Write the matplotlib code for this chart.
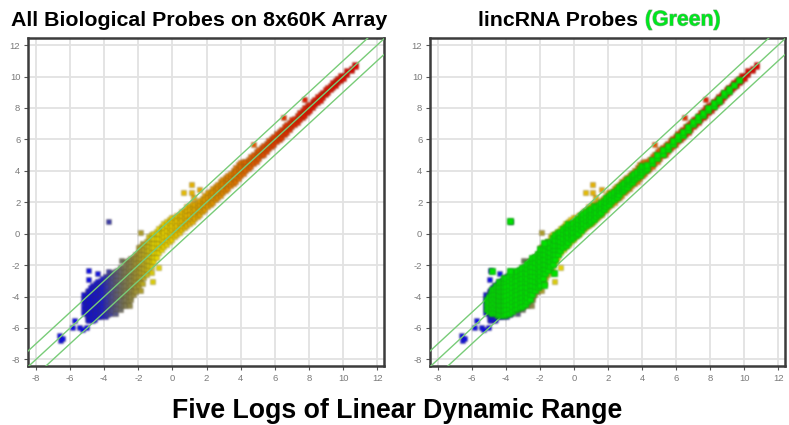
import numpy as np
import matplotlib
matplotlib.use("Agg")
import matplotlib.pyplot as plt
from matplotlib.colors import LinearSegmentedColormap
import matplotlib.patheffects as pe

plt.rcParams['font.family'] = ['Liberation Sans', 'DejaVu Sans']
plt.rcParams['axes.unicode_minus'] = False

# Titles
left_title = "All Biological Probes on 8x60K Array"
right_title = "lincRNA Probes "
right_title_green = "(Green)"
bottom_title = "Five Logs of Linear Dynamic Range"
ticks = [-8, -6, -4, -2, 0, 2, 4, 6, 8, 10, 12]

# All probes: x position with the y values read at that x
probe_x = [-5.2, -5.1, -5.0, -4.9, -4.8, -4.7, -4.6, -4.5, -4.4, -4.3, -4.2, -4.1, -3.95, -3.8, -3.65, -3.5,
           -3.35, -3.2, -3.05, -2.9, -2.75, -2.6, -2.45, -2.3, -2.15, -2.0, -1.85, -1.7, -1.55, -1.4,
           -1.25, -1.1, -0.95, -0.8, -0.65, -0.5, -0.35, -0.2, -0.05, 0.1, 0.25, 0.4, 0.55, 0.7, 0.85, 1.0,
           1.15, 1.3, 1.45, 1.6, 1.75, 1.9, 2.05, 2.2, 2.35, 2.5, 2.65, 2.8, 2.95, 3.1, 3.25, 3.4, 3.55, 3.7,
           3.85, 4.0, 4.15, 4.3, 4.45, 4.6, 4.75, 4.9, 5.05, 5.2, 5.35, 5.5, 5.65, 5.8, 5.95, 6.1, 6.25, 6.4,
           6.55, 6.7, 6.85, 7.0, 7.15, 7.3, 7.45, 7.6, 7.75, 7.9, 8.05, 8.2, 8.35, 8.5, 8.65, 8.8, 8.95, 9.1,
           9.25, 9.4, 9.55, 9.7, 9.85, 10.0, 10.2, 10.5, 10.7]
probe_y = [
    [-5.0, -4.7, -4.4, -4.1, -3.9],
    [-5.1, -4.8, -4.5, -4.2, -3.95],
    [-5.2, -4.9, -4.6, -4.3, -4.0, -3.7],
    [-5.35, -5.0, -4.7, -4.4, -4.1, -3.8, -3.6],
    [-5.45, -5.2, -4.9, -4.6, -4.3, -4.0, -3.7, -3.45],
    [-5.3, -5.05, -4.75, -4.45, -4.15, -3.85, -3.55, -3.3],
    [-5.45, -5.15, -4.85, -4.55, -4.25, -3.95, -3.65, -3.35],
    [-5.3, -5.0, -4.7, -4.4, -4.1, -3.8, -3.5, -3.2],
    [-5.3, -5.1, -4.8, -4.5, -4.2, -3.9, -3.6, -3.3, -3.05],
    [-5.25, -4.95, -4.65, -4.35, -4.05, -3.75, -3.45, -3.15],
    [-5.3, -5.05, -4.75, -4.45, -4.15, -3.85, -3.55, -3.25, -2.95],
    [-5.2, -4.9, -4.6, -4.3, -4.0, -3.7, -3.4, -3.1, -2.85],
    [-5.3, -5.0, -4.7, -4.4, -4.1, -3.8, -3.5, -3.2, -2.9, -2.7],
    [-5.15, -4.85, -4.55, -4.25, -3.95, -3.65, -3.35, -3.05, -2.75],
    [-5.05, -4.75, -4.45, -4.15, -3.85, -3.55, -3.25, -2.95, -2.65],
    [-4.9, -4.6, -4.3, -4.0, -3.7, -3.4, -3.1, -2.8, -2.5],
    [-5.05, -4.75, -4.45, -4.15, -3.85, -3.55, -3.25, -2.95, -2.65, -2.4],
    [-4.75, -4.45, -4.15, -3.85, -3.55, -3.25, -2.95, -2.65, -2.35],
    [-4.8, -4.5, -4.2, -3.9, -3.6, -3.3, -3.0, -2.7, -2.4, -2.15],
    [-4.55, -4.25, -3.95, -3.65, -3.35, -3.05, -2.75, -2.45, -2.15],
    [-4.5, -4.2, -3.9, -3.6, -3.3, -3.0, -2.7, -2.4, -2.1, -1.8],
    [-4.3, -4.0, -3.7, -3.4, -3.1, -2.8, -2.5, -2.2, -1.9, -1.7],
    [-4.2, -3.9, -3.6, -3.3, -3.0, -2.7, -2.4, -2.1, -1.8, -1.55],
    [-3.9, -3.6, -3.3, -3.0, -2.7, -2.4, -2.1, -1.8, -1.5],
    [-3.7, -3.4, -3.1, -2.8, -2.5, -2.2, -1.9, -1.6, -1.3],
    [-3.3, -3.0, -2.7, -2.4, -2.1, -1.8, -1.5, -1.2, -0.9],
    [-3.1, -2.8, -2.5, -2.2, -1.9, -1.6, -1.3, -1.0, -0.8],
    [-2.8, -2.5, -2.2, -1.9, -1.6, -1.3, -1.0, -0.7],
    [-2.6, -2.3, -2.0, -1.7, -1.4, -1.1, -0.8, -0.5],
    [-2.3, -2.0, -1.7, -1.4, -1.1, -0.8, -0.5, -0.2],
    [-2.1, -1.8, -1.5, -1.2, -0.9, -0.6, -0.3, -0.05],
    [-1.8, -1.5, -1.2, -0.9, -0.6, -0.3, 0.0],
    [-1.5, -1.2, -0.9, -0.6, -0.3, 0.0, 0.15],
    [-1.2, -0.9, -0.6, -0.3, 0.0, 0.3],
    [-1.0, -0.7, -0.4, -0.1, 0.2, 0.45],
    [-0.8, -0.5, -0.2, 0.1, 0.4, 0.65],
    [-0.7, -0.4, -0.1, 0.2, 0.5, 0.75],
    [-0.5, -0.2, 0.1, 0.4, 0.7, 0.9],
    [-0.35, -0.05, 0.25, 0.55, 0.85, 1.05],
    [-0.2, 0.1, 0.4, 0.7, 1.0],
    [-0.05, 0.25, 0.55, 0.85, 1.15],
    [0.1, 0.4, 0.7, 1.0, 1.25],
    [0.25, 0.55, 0.85, 1.15, 1.4],
    [0.4, 0.7, 1.0, 1.3, 1.5],
    [0.55, 0.85, 1.15, 1.45, 1.7],
    [0.65, 0.95, 1.25, 1.55, 1.8],
    [0.8, 1.1, 1.4, 1.7, 1.95],
    [0.95, 1.25, 1.55, 1.85],
    [1.1, 1.4, 1.7, 2.0],
    [1.25, 1.55, 1.85, 2.1],
    [1.4, 1.7, 2.0, 2.25],
    [1.55, 1.85, 2.15, 2.45],
    [1.7, 2.0, 2.3, 2.6],
    [1.85, 2.15, 2.45, 2.7],
    [2.0, 2.3, 2.6, 2.85],
    [2.15, 2.45, 2.75, 3.0],
    [2.3, 2.6, 2.9, 3.15],
    [2.45, 2.75, 3.05, 3.3],
    [2.6, 2.9, 3.2, 3.45],
    [2.75, 3.05, 3.35, 3.6],
    [2.9, 3.2, 3.5, 3.7],
    [3.05, 3.35, 3.65, 3.85],
    [3.2, 3.5, 3.8, 4.05],
    [3.35, 3.65, 3.95, 4.2],
    [3.5, 3.8, 4.1, 4.4],
    [3.7, 4.0, 4.3, 4.55],
    [3.85, 4.15, 4.45, 4.6],
    [4.0, 4.3, 4.6],
    [4.15, 4.45, 4.75],
    [4.3, 4.6, 4.9],
    [4.45, 4.75, 5.05],
    [4.6, 4.9, 5.2],
    [4.8, 5.05, 5.35],
    [4.95, 5.2, 5.5],
    [5.05, 5.35, 5.6],
    [5.2, 5.5, 5.75],
    [5.4, 5.65, 5.9],
    [5.55, 5.8, 6.05],
    [5.7, 5.95, 6.2],
    [5.85, 6.1, 6.35],
    [6.0, 6.25, 6.5],
    [6.15, 6.4, 6.65],
    [6.3, 6.55, 6.8],
    [6.45, 6.7, 6.95],
    [6.65, 6.85, 7.1],
    [6.8, 7.0, 7.25],
    [6.95, 7.15, 7.35],
    [7.1, 7.3, 7.5],
    [7.25, 7.45, 7.7],
    [7.4, 7.6, 7.85],
    [7.55, 7.75, 8.0],
    [7.7, 7.95, 8.15],
    [7.85, 8.05, 8.25],
    [8.0, 8.2, 8.4],
    [8.2, 8.35, 8.55],
    [8.35, 8.55, 8.7],
    [8.5, 8.7, 8.85],
    [8.65, 8.85, 9.0],
    [8.85, 9.0, 9.15],
    [9.0, 9.15, 9.3],
    [9.15, 9.3, 9.45],
    [9.3, 9.45, 9.6],
    [9.45, 9.6, 9.75],
    [9.6, 9.75, 9.9],
    [9.75, 9.9, 10.05],
    [9.9, 10.05],
    [10.1, 10.25, 10.4],
    [10.4, 10.5],
    [10.65, 10.75],
]

# Probes lying away from the main band
outlier_x = [-4.9, -4.4, -3.75, -4.95, -5.75, -5.85, -5.45, -5.3, -5.05, -6.6, -6.45, -6.55, -3.75, -3.0,
             -1.9, -1.75, -0.6, -0.8, -1.15, -1.25, -1.75, -1.9, -2.5, -2.75, -2.45, 0.65, 1.1, 1.1, 1.6,
             1.25, 4.75, 6.5, 7.75, -5.0, -4.9, -4.7]
outlier_y = [-2.35, -2.55, -2.4, -2.9, -5.55, -5.95, -5.95, -6.1, -5.95, -6.5, -6.65, -6.8, 0.8, -1.7,
             0.1, -0.65, 0.35, -2.15, -3.05, -2.5, -3.2, -3.6, -4.6, -4.55, -4.0, 2.6, 3.15, 2.6, 2.8,
             2.3, 5.7, 7.4, 8.55, -5.45, -5.5, -5.55]

# lincRNA probes: x position with the y values read at that x
linc_x = [-5.1, -5.0, -4.9, -4.8, -4.7, -4.6, -4.5, -4.4, -4.3, -4.2, -4.1, -4.0, -3.8, -3.65, -3.5, -3.35, -3.2,
          -3.05, -2.9, -2.75, -2.6, -2.45, -2.3, -2.15, -2.0, -1.85, -1.7, -1.55, -1.4, -1.25, -1.1, -0.95,
          -0.8, -0.65, -0.5, -0.35, -0.2, -0.05, 0.1, 0.25, 0.4, 0.55, 0.7, 0.85, 1.0, 1.15, 1.3, 1.45, 1.6,
          1.75, 1.9, 2.05, 2.2, 2.35, 2.5, 2.65, 2.8, 2.95, 3.1, 3.25, 3.4, 3.55, 3.7, 3.85, 4.0, 4.15, 4.3,
          4.6, 4.9, 5.2, 5.5, 5.8, 6.1, 6.4, 6.7, 7.0, 7.3, 7.6, 7.9, 8.2, 8.5, 8.8, 9.1, 9.4, 9.7]
linc_y = [
    [-4.8, -4.5, -4.2],
    [-4.95, -4.65, -4.35, -4.05],
    [-4.95, -4.65, -4.35, -4.05, -3.85],
    [-5.05, -4.75, -4.45, -4.15, -3.85, -3.6],
    [-4.95, -4.65, -4.35, -4.05, -3.75, -3.5],
    [-5.05, -4.75, -4.45, -4.15, -3.85, -3.55, -3.35],
    [-5.15, -4.85, -4.55, -4.25, -3.95, -3.65, -3.35],
    [-5.1, -4.8, -4.5, -4.2, -3.9, -3.6, -3.3, -3.1],
    [-5.15, -4.85, -4.55, -4.25, -3.95, -3.65, -3.35, -3.05],
    [-5.1, -4.8, -4.5, -4.2, -3.9, -3.6, -3.3, -3.0],
    [-5.15, -4.85, -4.55, -4.25, -3.95, -3.65, -3.35, -3.05, -2.85],
    [-5.1, -4.8, -4.5, -4.2, -3.9, -3.6, -3.3, -3.0, -2.8],
    [-5.05, -4.75, -4.45, -4.15, -3.85, -3.55, -3.25, -2.95, -2.7],
    [-4.9, -4.6, -4.3, -4.0, -3.7, -3.4, -3.1, -2.8, -2.55],
    [-4.8, -4.5, -4.2, -3.9, -3.6, -3.3, -3.0, -2.7, -2.5],
    [-4.75, -4.45, -4.15, -3.85, -3.55, -3.25, -2.95, -2.65, -2.4],
    [-4.65, -4.35, -4.05, -3.75, -3.45, -3.15, -2.85, -2.55, -2.3],
    [-4.6, -4.3, -4.0, -3.7, -3.4, -3.1, -2.8, -2.5, -2.2],
    [-4.5, -4.2, -3.9, -3.6, -3.3, -3.0, -2.7, -2.4, -2.1],
    [-4.3, -4.0, -3.7, -3.4, -3.1, -2.8, -2.5, -2.2, -1.95],
    [-4.15, -3.85, -3.55, -3.25, -2.95, -2.65, -2.35, -2.05, -1.8],
    [-3.85, -3.55, -3.25, -2.95, -2.65, -2.35, -2.05, -1.75, -1.55],
    [-3.6, -3.3, -3.0, -2.7, -2.4, -2.1, -1.8, -1.5],
    [-3.4, -3.1, -2.8, -2.5, -2.2, -1.9, -1.6, -1.3],
    [-3.25, -2.95, -2.65, -2.35, -2.05, -1.75, -1.45, -1.15, -1.0],
    [-2.8, -2.5, -2.2, -1.9, -1.6, -1.3, -1.0],
    [-2.5, -2.2, -1.9, -1.6, -1.3, -1.0, -0.75],
    [-2.3, -2.0, -1.7, -1.4, -1.1, -0.8, -0.55],
    [-2.05, -1.75, -1.45, -1.15, -0.85, -0.5],
    [-1.9, -1.6, -1.3, -1.0, -0.7, -0.3],
    [-1.6, -1.3, -1.0, -0.7, -0.4, -0.1],
    [-1.3, -1.0, -0.7, -0.4, -0.1, 0.05],
    [-1.05, -0.75, -0.45, -0.15, 0.1],
    [-0.85, -0.55, -0.25, 0.05, 0.3],
    [-0.7, -0.4, -0.1, 0.2, 0.45],
    [-0.5, -0.2, 0.1, 0.4, 0.6],
    [-0.35, -0.05, 0.25, 0.55],
    [-0.2, 0.1, 0.4, 0.7],
    [-0.1, 0.2, 0.5, 0.8],
    [0.05, 0.35, 0.65, 0.95],
    [0.25, 0.55, 0.85, 1.1],
    [0.4, 0.7, 1.0, 1.25],
    [0.55, 0.85, 1.15, 1.35],
    [0.65, 0.95, 1.25, 1.5],
    [0.8, 1.1, 1.4, 1.6],
    [0.95, 1.25, 1.55, 1.75],
    [1.1, 1.4, 1.7],
    [1.25, 1.55, 1.85],
    [1.4, 1.7, 1.95],
    [1.6, 1.85, 2.1],
    [1.75, 2.0, 2.25],
    [1.9, 2.15, 2.4],
    [2.05, 2.3, 2.5],
    [2.2, 2.45, 2.65],
    [2.35, 2.6, 2.8],
    [2.5, 2.75, 2.95],
    [2.7, 2.9, 3.1],
    [2.85, 3.05, 3.25],
    [3.0, 3.2, 3.4],
    [3.15, 3.35, 3.5],
    [3.3, 3.5, 3.65],
    [3.45, 3.65, 3.8],
    [3.6, 3.8, 3.95],
    [3.75, 3.95, 4.1],
    [3.9, 4.1, 4.3],
    [4.05, 4.25],
    [4.2, 4.4],
    [4.5, 4.7],
    [4.8, 5.0],
    [5.1, 5.3],
    [5.4, 5.6],
    [5.7, 5.9],
    [6.0, 6.2],
    [6.3, 6.5],
    [6.6, 6.8],
    [6.95, 7.1],
    [7.25, 7.4],
    [7.55, 7.7],
    [7.85, 8.0],
    [8.15, 8.3],
    [8.45, 8.6],
    [8.8, 8.95],
    [9.1, 9.2],
    [9.45],
    [9.75],
]
linc_outlier_x = [-3.75, -4.85, -3.75, -1.75, -1.2, -1.75]
linc_outlier_y = [0.8, -2.4, -2.4, -0.6, -2.5, -3.25]

# y = x, and the one-log limits either side of it
line_offsets = [-1, 0, 1]


def flatten(xs, ys):
    out_x, out_y = [], []
    for x, col in zip(xs, ys):
        for y in col:
            out_x.append(x)
            out_y.append(y)
    return out_x, out_y


def soften(image, dpi):
    """Slight blur, on premultiplied colour, for the soft look of the reference."""
    pad = 3
    img = np.pad(image, ((pad, pad), (pad, pad), (0, 0))).astype(float)
    alpha = img[..., 3:4]
    rgb = img[..., :3] * alpha
    stack = np.concatenate([rgb, alpha], axis=2)
    kernel = (0.2, 0.6, 0.2)
    for axis in (0, 1):
        stack = (kernel[0] * np.roll(stack, 1, axis=axis) + kernel[1] * stack
                 + kernel[2] * np.roll(stack, -1, axis=axis))
    a = stack[..., 3:4]
    out_rgb = np.where(a > 1e-4, stack[..., :3] / np.maximum(a, 1e-4), 0.0)
    return np.concatenate([np.clip(out_rgb, 0, 1), a], axis=2), -pad, -pad


cmap = LinearSegmentedColormap.from_list(
    "probe",
    [(0.0, "#0a0ae6"), (0.05, "#1414dc"), (0.085, "#44449a"), (0.125, "#707062"), (0.19, "#aa9a2c"),
     (0.25, "#e6d800"), (0.31, "#e8cc00"), (0.44, "#e09a00"), (0.56, "#e07000"), (0.69, "#dd3c00"),
     (0.81, "#e01500"), (1.0, "#e00000")])
VMIN, VMAX = -5.0, 11.0

fig = plt.figure(figsize=(7.89, 4.25), dpi=100)
W, H = 789.0, 425.0


def make_axes(left, right):
    top, bottom = 38.0, 366.0
    return fig.add_axes([left / W, 1 - bottom / H, (right - left) / W, (bottom - top) / H])


def draw_panel(ax, linc):
    ax.set_xlim(-8.47, 12.4)
    ax.set_ylim(-8.42, 12.45)
    ax.set_xticks(ticks)
    ax.set_yticks(ticks)
    ax.grid(True, color="#e2e2e2", lw=1.3)
    ax.set_axisbelow(True)
    ax.tick_params(labelsize=6.8, labelcolor="#7a7a7a", color="#555555", length=3, width=0.8, pad=2.5)
    for name, s in ax.spines.items():
        s.set_color("#3c3c3c")
        s.set_linewidth(1.8)
    bx, by = flatten(probe_x, probe_y)
    bx = bx + outlier_x
    by = by + outlier_y
    order = np.argsort(bx)
    base = ax.scatter(np.array(bx)[order], np.array(by)[order], c=np.array(bx)[order], cmap=cmap,
                      vmin=VMIN, vmax=VMAX, marker="s", s=13,
                      edgecolors=(0.3, 0.25, 0.1, 0.4), linewidths=0.5, zorder=3)
    base.set_agg_filter(soften)
    xs = ax.get_xlim()
    for off in line_offsets:
        ax.plot(xs, [xs[0] + off, xs[1] + off], color="#78cc78", lw=1.0, zorder=5)
    if linc:
        lx, ly = flatten(linc_x, linc_y)
        lx = lx + linc_outlier_x
        ly = ly + linc_outlier_y
        top = ax.scatter(lx, ly, c="#00e400", marker="s", s=13,
                         edgecolors="#10ac10", linewidths=0.6, zorder=6)
        top.set_agg_filter(soften)
    ax.set_xlim(xs)
    ax.set_ylim(-8.42, 12.45)


draw_panel(make_axes(28, 384), False)
draw_panel(make_axes(430, 785), True)

fig.text(199.5 / W, 1 - 25.5 / H, left_title, ha="center", va="baseline", fontsize=15.4, fontweight="bold")
fig.text(478 / W, 1 - 25.5 / H, right_title, ha="left", va="baseline", fontsize=15.3, fontweight="bold")
g = fig.text(645 / W, 1 - 25.5 / H, right_title_green, ha="left", va="baseline", fontsize=15.3,
             fontweight="bold", color="#00e61e")
g.set_path_effects([pe.withStroke(linewidth=0.8, foreground="#8fb08f")])
fig.text(397.5 / W, 1 - 418.5 / H, bottom_title, ha="center", va="baseline", fontsize=19.15, fontweight="bold")

fig.savefig("out.png", dpi=100)
